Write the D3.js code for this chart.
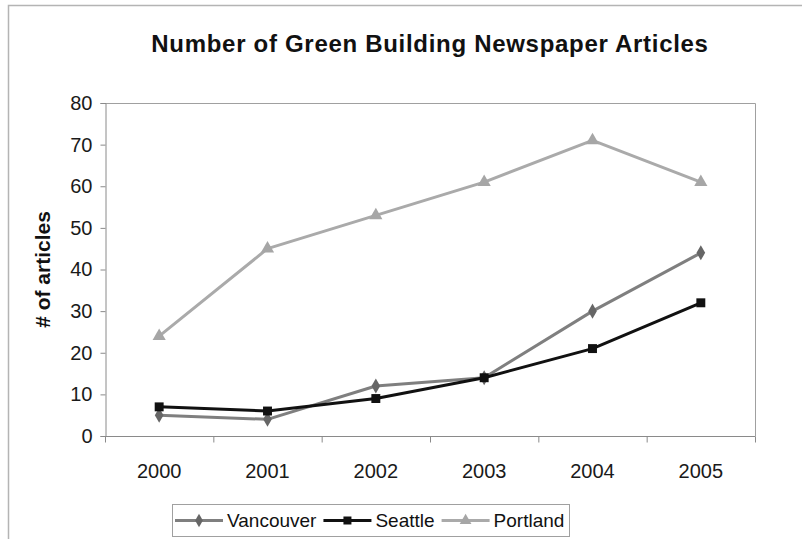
<!DOCTYPE html>
<html>
<head>
<meta charset="utf-8">
<script src="https://cdn.jsdelivr.net/npm/d3@7/dist/d3.min.js"></script>
<style>
  html, body { margin: 0; padding: 0; background: #fff; }
  svg { display: block; font-family: "Liberation Sans", Arial, sans-serif; }
</style>
</head>
<body>
<svg id="chart" width="802" height="539"></svg>
<script>
// Yearly article counts per city
const years = ["2000", "2001", "2002", "2003", "2004", "2005"];
const vancouver = [5, 4, 12, 14, 30, 44];
const seattle = [7, 6, 9, 14, 21, 32];
const portland = [24, 45, 53, 61, 71, 61];
const yTicks = [0, 10, 20, 30, 40, 50, 60, 70, 80];

const series = [
  { name: "Vancouver", values: vancouver, line: "#7f7f7f", marker: "#666666", symbol: d3.symbolDiamond, size: 65 },
  { name: "Seattle",   values: seattle,   line: "#111111", marker: "#111111", symbol: d3.symbolSquare,  size: 80 },
  { name: "Portland",  values: portland,  line: "#aaaaaa", marker: "#a6a6a6", symbol: d3.symbolTriangle, size: 75 }
];

const svg = d3.select("#chart");
const plot = { left: 105, right: 755, top: 103, bottom: 436 };

const x = d3.scalePoint().domain(years).range([plot.left, plot.right]).padding(0.5);
const xBand = d3.scaleBand().domain(years).range([plot.left, plot.right]);
const y = d3.scaleLinear().domain([0, 80]).range([plot.bottom, plot.top]);

// outer chart frame (left and top edges)
svg.append("path")
  .attr("d", "M8.5,539 V5.5 H802")
  .attr("fill", "none").attr("stroke", "#b4b4b4").attr("stroke-width", 1.5);

// title
svg.append("text")
  .attr("x", 430).attr("y", 52)
  .attr("text-anchor", "middle")
  .attr("font-size", 24).attr("font-weight", "bold")
  .attr("letter-spacing", 0.7)
  .attr("fill", "#111")
  .text("Number of Green Building Newspaper Articles");

// plot area border (top and right)
svg.append("path")
  .attr("d", `M${plot.left},${plot.top + 0.5} H${plot.right + 0.5} V${plot.bottom}`)
  .attr("fill", "none").attr("stroke", "#a0a0a0").attr("stroke-width", 1);

// y axis
const yAxis = svg.append("g")
  .attr("transform", `translate(${plot.left + 0.5},0)`)
  .call(d3.axisLeft(y).tickValues(yTicks).tickSize(5).tickPadding(8));
yAxis.select(".domain").attr("stroke", "#8a8a8a");
yAxis.selectAll(".tick line").attr("stroke", "#8a8a8a");
yAxis.selectAll(".tick text")
  .attr("font-size", 20).attr("fill", "#1a1a1a")
  .attr("font-family", "'Liberation Sans', Arial, sans-serif");

// x axis with ticks on category boundaries
const xAxis = svg.append("g")
  .attr("transform", `translate(0,${plot.bottom + 0.5})`);
xAxis.append("line")
  .attr("x1", plot.left).attr("x2", plot.right + 0.5)
  .attr("stroke", "#8a8a8a");
const bounds = years.map(d => xBand(d)).concat([plot.right]);
xAxis.selectAll("line.tk").data(bounds).join("line")
  .attr("class", "tk")
  .attr("x1", d => d + 0.5).attr("x2", d => d + 0.5)
  .attr("y1", 0).attr("y2", 6)
  .attr("stroke", "#8a8a8a");
xAxis.selectAll("text").data(years).join("text")
  .attr("x", d => x(d)).attr("y", 41)
  .attr("text-anchor", "middle")
  .attr("font-size", 20).attr("fill", "#1a1a1a")
  .text(d => d);

// y axis title
svg.append("text")
  .attr("transform", `translate(50,${(plot.top + plot.bottom) / 2}) rotate(-90)`)
  .attr("text-anchor", "middle")
  .attr("font-size", 21).attr("font-weight", "bold").attr("fill", "#111")
  .text("# of articles");

// series lines and markers
const line = d3.line().x((d, i) => x(years[i])).y(d => y(d));
series.forEach(s => {
  svg.append("path")
    .datum(s.values)
    .attr("d", line)
    .attr("fill", "none")
    .attr("stroke", s.line).attr("stroke-width", 3)
    .attr("stroke-linejoin", "round");
  svg.append("g").selectAll("path").data(s.values).join("path")
    .attr("transform", (d, i) => `translate(${x(years[i])},${y(d)})`)
    .attr("d", d3.symbol().type(s.symbol).size(s.size))
    .attr("fill", s.marker);
});

// legend
const legend = svg.append("g");
legend.append("rect")
  .attr("x", 172.5).attr("y", 504.5).attr("width", 397).attr("height", 32)
  .attr("fill", "#fff").attr("stroke", "#a0a0a0");
let lx = 175;
series.forEach(s => {
  const g = legend.append("g");
  g.append("line")
    .attr("x1", lx).attr("x2", lx + 48).attr("y1", 520.5).attr("y2", 520.5)
    .attr("stroke", s.line).attr("stroke-width", 3);
  g.append("path")
    .attr("transform", `translate(${lx + 24},520.5)`)
    .attr("d", d3.symbol().type(s.symbol).size(s.size * 0.8))
    .attr("fill", s.marker);
  const t = g.append("text")
    .attr("x", lx + 52).attr("y", 527)
    .attr("font-size", 19).attr("fill", "#111")
    .text(s.name);
  lx = lx + 52 + t.node().getComputedTextLength() + 7;
});
</script>
</body>
</html>
